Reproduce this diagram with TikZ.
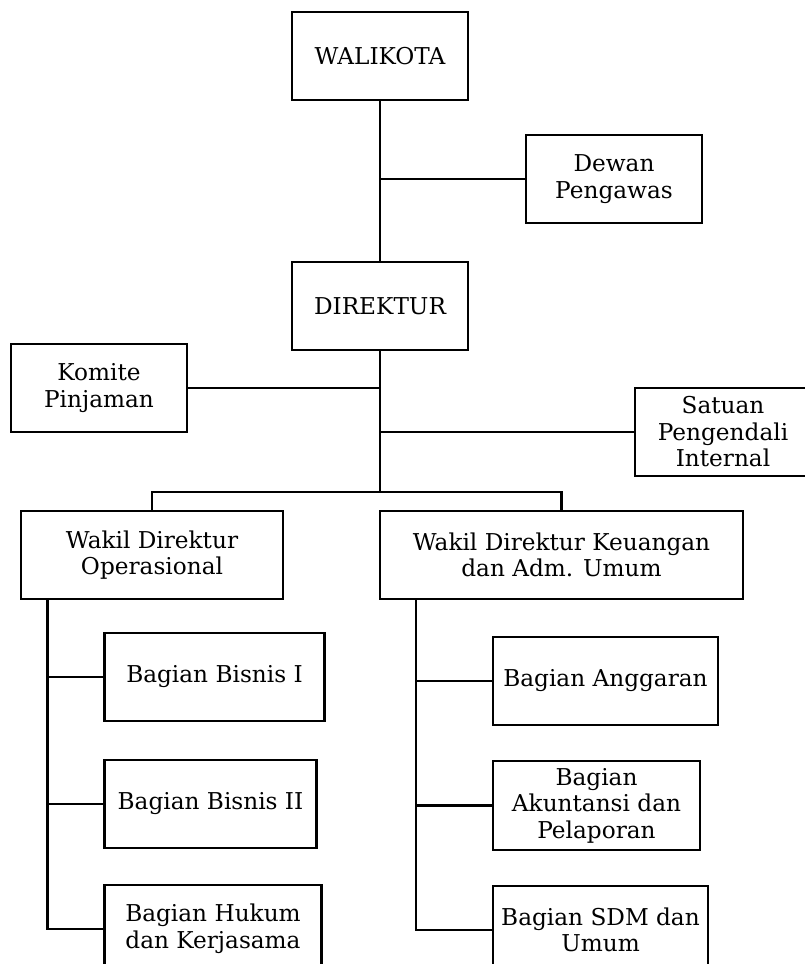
\documentclass[tikz,border=0pt]{standalone}
\usepackage{fontspec}
\setmainfont{DejaVu Serif}
\usepackage{tikz}
\usetikzlibrary{positioning,calc}
\tikzset{
    kotak/.style={
        rectangle,
        draw,
        line width=2.6pt,
        align=center,
        inner sep=2pt,
        outer sep=0pt,
        minimum height=88pt,
        minimum width=176pt
    },
    garis/.style={line width=2.6pt}
}

\begin{document}
\begin{tikzpicture}[
        node distance=36pt and 58pt,
        every node/.style={font=\fontsize{23.2}{26.5}\selectfont}
    ]
        \path[use as bounding box, fill=white] (0,0) rectangle (805pt,-964pt);

        \node[kotak] (walikota) at (380pt,-56pt) {WALIKOTA};
        \node[kotak, below=162pt of walikota] (direktur) {DIREKTUR};
        \node[kotak, below right=35pt and 58pt of walikota] (dewan) {Dewan\\Pengawas};
        \node[kotak, below left=-6pt and 105pt of direktur] (komite) {Komite\\Pinjaman};
        \node[kotak, below right=38pt and 167pt of direktur] (satuan) {Satuan\\Pengendali\\Internal};
        \coordinate[below=142pt of direktur.south] (cabang);

        \node[kotak, minimum width=262pt, below left=161pt and 9pt of direktur] (wakilop) {Wakil Direktur\\Operasional};
        \node[kotak, minimum width=363pt, right=97pt of wakilop] (wakilkeu) {Wakil Direktur Keuangan\\dan Adm. Umum};

        \node[kotak, minimum width=220pt, anchor=north west] (bisnis1) at ([xshift=83.5pt, yshift=-34pt]wakilop.south west) {Bagian Bisnis I};
        \node[kotak, minimum width=212pt, below=39pt of bisnis1.south west, anchor=north west] (bisnis2) {Bagian Bisnis II};
        \node[kotak, minimum width=217pt, below=37pt of bisnis2.south west, anchor=north west] (hukum) {Bagian Hukum\\dan Kerjasama};
        \coordinate (jalurop) at ([xshift=26.5pt]wakilop.south west);

        \node[kotak, minimum width=225pt, anchor=north west] (anggaran) at ([xshift=113pt, yshift=-38pt]wakilkeu.south west) {Bagian Anggaran};
        \node[kotak, minimum width=207pt, minimum height=89pt, below=36pt of anggaran.south west, anchor=north west] (akuntansi) {Bagian\\Akuntansi dan\\Pelaporan};
        \node[kotak, minimum width=215pt, below=36pt of akuntansi.south west, anchor=north west] (sdm) {Bagian SDM dan\\Umum};
        \coordinate (jalurkeu) at ([xshift=36pt]wakilkeu.south west);

        \draw[garis] (walikota) -- (direktur);
        \draw[garis] (dewan.west) -- (dewan.west -| walikota.south);
        \draw[garis] (direktur) -- (cabang);
        \draw[garis] (komite.east) -- (komite.east -| direktur.south);
        \draw[garis] (satuan.west) -- (satuan.west -| direktur.south);
        \draw[garis] (wakilop.north) |- (cabang) -| (wakilkeu.north);

        \draw[garis] (jalurop) |- (hukum.west);
        \draw[garis] (bisnis1.west) -- (bisnis1.west -| jalurop);
        \draw[garis] (bisnis2.west) -- (bisnis2.west -| jalurop);

        \draw[garis] (jalurkeu) |- (sdm.west);
        \draw[garis] (anggaran.west) -- (anggaran.west -| jalurkeu);
        \draw[garis] (akuntansi.west) -- (akuntansi.west -| jalurkeu);
    \end{tikzpicture}
\end{document}
